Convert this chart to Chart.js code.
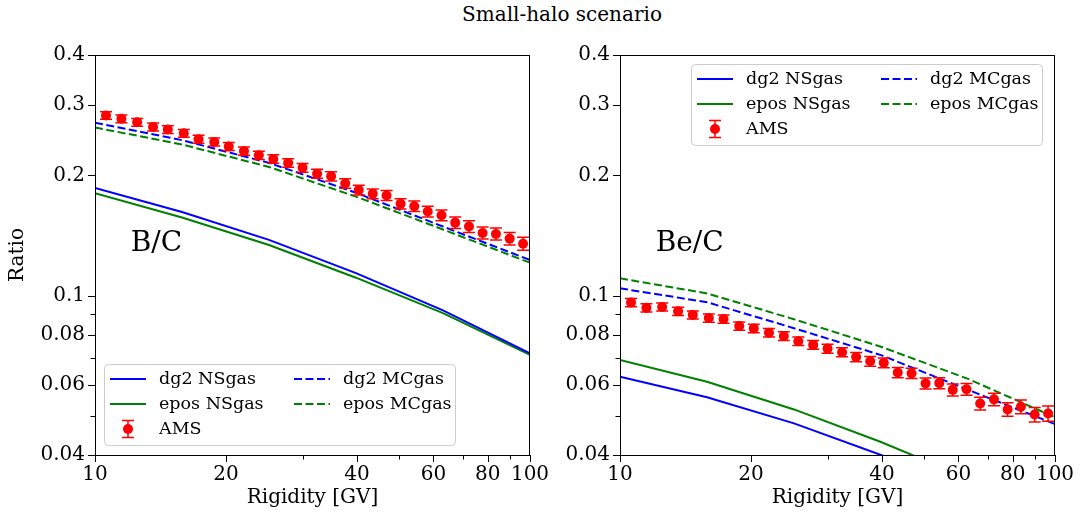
<!DOCTYPE html>
<html>
<head>
<meta charset="utf-8">
<script src="https://cdn.jsdelivr.net/npm/chart.js@4.4.0/dist/chart.umd.min.js"></script>
<style>
  body { margin: 0; background: #fff; width: 1085px; height: 516px; position: relative; overflow: hidden; font-family: 'DejaVu Serif', serif; }
  #title { position: absolute; left: 0; top: 2px; width: 1124px; text-align: center; font-size: 20px; line-height: 24px; color: #000; }
  #c1 { position: absolute; left: 0; top: 0; }
  #c2 { position: absolute; left: 560px; top: 0; }
</style>
</head>
<body>
<div id="title">Small-halo scenario</div>
<canvas id="c1" width="560" height="516"></canvas>
<canvas id="c2" width="525" height="516"></canvas>
<script>
// AMS data points (rigidity bins, GV)
const amsRigidity = [10.6, 11.5, 12.5, 13.6, 14.7, 16.0, 17.3, 18.8, 20.3, 22.0, 23.8, 25.7, 27.8, 30.0, 32.4,
                     34.9, 37.6, 40.4, 43.5, 46.8, 50.4, 54.2, 58.2, 62.6, 67.3, 72.4, 77.8, 83.5, 89.8, 96.4];
const bcAms = [0.2825, 0.2770, 0.2716, 0.2644, 0.2604, 0.2548, 0.2463, 0.2425, 0.2363, 0.2300, 0.2245, 0.2198, 0.2148, 0.2090, 0.2020,
               0.1990, 0.1910, 0.1838, 0.1799, 0.1782, 0.1698, 0.1675, 0.1625, 0.1590, 0.1524, 0.1490, 0.1436, 0.1428, 0.1390, 0.1350];
const bcAmsErr = [0.0062, 0.0060, 0.0060, 0.0060, 0.0058, 0.0058, 0.0056, 0.0056, 0.0055, 0.0055, 0.0054, 0.0054, 0.0053, 0.0053, 0.0052,
                  0.0052, 0.0052, 0.0051, 0.0051, 0.0051, 0.0050, 0.0050, 0.0050, 0.0050, 0.0050, 0.0050, 0.0050, 0.0050, 0.0050, 0.0050];
const becAms = [0.0962, 0.0933, 0.0938, 0.0915, 0.0896, 0.0880, 0.0875, 0.0840, 0.0829, 0.0809, 0.0793, 0.0770, 0.0754, 0.0738, 0.0723,
                0.0703, 0.0686, 0.0680, 0.0643, 0.0640, 0.0604, 0.0605, 0.0582, 0.0584, 0.0538, 0.0551, 0.0520, 0.0528, 0.0505, 0.0508];
const becAmsErr = [0.0023, 0.0022, 0.0022, 0.0022, 0.0021, 0.0021, 0.0021, 0.0020, 0.0020, 0.0020, 0.0020, 0.0019, 0.0019, 0.0019, 0.0019,
                   0.0019, 0.0019, 0.0019, 0.0019, 0.0019, 0.0019, 0.0019, 0.0020, 0.0020, 0.0020, 0.0020, 0.0020, 0.0021, 0.0021, 0.0022];

// model curves
const modelRigidity = [10, 15.85, 25.12, 39.81, 63.1, 100];
const bcDg2NS  = [0.186, 0.162, 0.138, 0.114, 0.092, 0.0718];
const bcEposNS = [0.1804, 0.157, 0.134, 0.111, 0.0905, 0.0712];
const bcDg2MC  = [0.271, 0.245, 0.215, 0.181, 0.149, 0.1229];
const bcEposMC = [0.2636, 0.239, 0.210, 0.177, 0.1465, 0.121];
const becDg2NS  = [0.0628, 0.0558, 0.048, 0.040, 0.0325, 0.0265];
const becEposNS = [0.0691, 0.061, 0.052, 0.0431, 0.035, 0.0285];
const becDg2MC  = [0.1044, 0.0964, 0.083, 0.0711, 0.0582, 0.0478];
const becEposMC = [0.1106, 0.1014, 0.0874, 0.0746, 0.062, 0.0497];

// ticks
const xTickValues = [10, 20, 40, 60, 80, 100];
const xTickLabels = ['10', '20', '40', '60', '80', '100'];
const xMinorTicks = [30, 50, 70, 90];
const yTickValues = [0.04, 0.06, 0.08, 0.1, 0.2, 0.3, 0.4];
const yTickLabels = ['0.04', '0.06', '0.08', '0.1', '0.2', '0.3', '0.4'];
const yMinorTicks = [0.05, 0.07, 0.09];

const serif = "'DejaVu Serif', serif";
Chart.defaults.font.family = serif;
Chart.defaults.font.size = 20;
Chart.defaults.color = '#000';

function pts(xs, ys) { return xs.map((x, i) => ({ x: x, y: ys[i] })); }

// error bars drawn just before the AMS markers
const errorBars = {
  id: 'errorBars',
  beforeDatasetDraw(chart, args) {
    const ds = chart.data.datasets[args.index];
    if (!ds.errors) return;
    const { ctx, chartArea: a, scales: { x, y } } = chart;
    ctx.save();
    ctx.beginPath(); ctx.rect(a.left, a.top, a.width, a.height); ctx.clip();
    ctx.strokeStyle = ds.backgroundColor;
    ctx.lineWidth = 1.5;
    ds.data.forEach((p, i) => {
      const px = x.getPixelForValue(p.x);
      const t = y.getPixelForValue(p.y + ds.errors[i]);
      const b = y.getPixelForValue(p.y - ds.errors[i]);
      ctx.beginPath();
      ctx.moveTo(px, t); ctx.lineTo(px, b);
      ctx.moveTo(px - 6, t); ctx.lineTo(px + 6, t);
      ctx.moveTo(px - 6, b); ctx.lineTo(px + 6, b);
      ctx.stroke();
    });
    ctx.restore();
  }
};

// matplotlib-like frame with major/minor ticks
const axesFrame = {
  id: 'axesFrame',
  afterDraw(chart) {
    const { ctx, chartArea: a, scales: { x, y } } = chart;
    ctx.save();
    ctx.strokeStyle = '#000';
    ctx.lineWidth = 1;
    ctx.strokeRect(a.left + 0.5, a.top + 0.5, a.width - 1, a.height);
    ctx.beginPath();
    const tick = (vals, len) => {
      vals.forEach(v => {
        const px = Math.round(x.getPixelForValue(v)) + 0.5;
        ctx.moveTo(px, a.bottom); ctx.lineTo(px, a.bottom + len);
      });
    };
    const ytick = (vals, len) => {
      vals.forEach(v => {
        const py = Math.round(y.getPixelForValue(v)) + 0.5;
        ctx.moveTo(a.left, py); ctx.lineTo(a.left - len, py);
      });
    };
    tick(xTickValues, 7); tick(xMinorTicks, 4.5);
    ytick(yTickValues, 7); ytick(yMinorTicks, 4.5);
    ctx.stroke();
    ctx.restore();
  }
};

const panelLabel = {
  id: 'panelLabel',
  afterDraw(chart, args, opts) {
    const { ctx, chartArea: a } = chart;
    ctx.save();
    ctx.font = "28px " + serif;
    ctx.fillStyle = '#000';
    ctx.textAlign = 'left';
    ctx.textBaseline = 'alphabetic';
    ctx.fillText(opts.text, a.left + 0.082 * a.width, a.top + 0.489 * a.height);
    ctx.restore();
  }
};

const boxLegend = {
  id: 'boxLegend',
  afterDraw(chart, args, opts) {
    const { ctx, chartArea: a } = chart;
    const w = 351, h = 81;
    const left = opts.corner === 'bl' ? a.left + 9 : a.right - 13 - w;
    const top = opts.corner === 'bl' ? a.bottom - 10 - h : a.top + 9;
    ctx.save();
    ctx.beginPath();
    ctx.roundRect(left + 0.5, top + 0.5, w, h, 4);
    ctx.fillStyle = 'rgba(255,255,255,0.8)';
    ctx.fill();
    ctx.strokeStyle = '#cccccc';
    ctx.lineWidth = 1;
    ctx.stroke();
    ctx.font = "17.5px " + serif;
    ctx.textBaseline = 'middle';
    ctx.textAlign = 'left';
    chart.data.datasets.forEach(ds => {
      const col = ds.slot[0], row = ds.slot[1];
      const hx = left + (col ? 190 : 6);
      const tx = left + (col ? 239 : 55);
      const cy = top + 15 + row * 25;
      if (ds.errors) {
        const mx = hx + 18;
        ctx.strokeStyle = ds.backgroundColor;
        ctx.lineWidth = 1.5;
        ctx.beginPath();
        ctx.moveTo(mx, cy - 8.5); ctx.lineTo(mx, cy + 8.5);
        ctx.moveTo(mx - 6, cy - 8.5); ctx.lineTo(mx + 6, cy - 8.5);
        ctx.moveTo(mx - 6, cy + 8.5); ctx.lineTo(mx + 6, cy + 8.5);
        ctx.stroke();
        ctx.fillStyle = ds.backgroundColor;
        ctx.beginPath(); ctx.arc(mx, cy, 5, 0, Math.PI * 2); ctx.fill();
      } else {
        ctx.strokeStyle = ds.borderColor;
        ctx.lineWidth = 2;
        ctx.setLineDash(ds.borderDash || []);
        ctx.beginPath(); ctx.moveTo(hx, cy); ctx.lineTo(hx + 36, cy); ctx.stroke();
        ctx.setLineDash([]);
      }
      ctx.fillStyle = '#000';
      ctx.fillText(ds.label, tx, cy);
    });
    ctx.restore();
  }
};

function lineSet(label, ys, color, dashed, slot) {
  return {
    label: label, data: pts(modelRigidity, ys), showLine: true, pointRadius: 0,
    borderColor: color, backgroundColor: color, borderWidth: 2,
    borderDash: dashed ? [8, 3.5] : [], clip: 0, slot: slot
  };
}

function makePanel(canvas, ams, amsErr, dg2NS, eposNS, dg2MC, eposMC, opts) {
  return new Chart(canvas, {
    type: 'scatter',
    data: {
      datasets: [
        { label: 'AMS', data: pts(amsRigidity, ams), errors: amsErr, pointRadius: 5, pointHoverRadius: 5,
          backgroundColor: '#ff0000', borderWidth: 0, showLine: false, slot: [0, 2] },
        lineSet('dg2 NSgas', dg2NS, '#0000ff', false, [0, 0]),
        lineSet('epos NSgas', eposNS, '#008000', false, [0, 1]),
        lineSet('dg2 MCgas', dg2MC, '#0000ff', true, [1, 0]),
        lineSet('epos MCgas', eposMC, '#008000', true, [1, 1])
      ]
    },
    options: {
      responsive: false,
      animation: false,
      events: [],
      layout: { padding: { left: 0, top: 55, right: opts.padRight, bottom: 0 } },
      plugins: {
        legend: { display: false },
        tooltip: { enabled: false },
        panelLabel: { text: opts.label },
        boxLegend: { corner: opts.legendCorner }
      },
      scales: {
        x: {
          type: 'logarithmic', min: 10, max: 100,
          afterBuildTicks: s => { s.ticks = xTickValues.map(v => ({ value: v })); },
          afterFit: s => { s.height = 61; },
          ticks: {
            autoSkip: false, maxRotation: 0, padding: 8,
            font: { family: serif, size: 20 },
            callback: v => { const i = xTickValues.indexOf(v); return i >= 0 ? xTickLabels[i] : ''; }
          },
          grid: { display: false, drawTicks: false },
          border: { display: false },
          title: { display: true, text: 'Rigidity [GV]', font: { family: serif, size: 20 }, padding: { top: 0, bottom: 6 } }
        },
        y: {
          type: 'logarithmic', min: 0.04, max: 0.4,
          afterBuildTicks: s => { s.ticks = yTickValues.map(v => ({ value: v })); },
          afterFit: s => { s.width = opts.yWidth; },
          ticks: {
            autoSkip: false, padding: 10,
            font: { family: serif, size: 20 },
            callback: v => { const i = yTickValues.indexOf(v); return i >= 0 ? yTickLabels[i] : ''; }
          },
          grid: { display: false, drawTicks: false },
          border: { display: false },
          title: { display: opts.yTitle, text: 'Ratio', font: { family: serif, size: 20 }, padding: { top: 6, bottom: 0 } }
        }
      }
    },
    plugins: [errorBars, axesFrame, panelLabel, boxLegend]
  });
}

makePanel(document.getElementById('c1'), bcAms, bcAmsErr, bcDg2NS, bcEposNS, bcDg2MC, bcEposMC,
  { padRight: 30, yWidth: 95, yTitle: true, label: 'B/C', legendCorner: 'bl' });
makePanel(document.getElementById('c2'), becAms, becAmsErr, becDg2NS, becEposNS, becDg2MC, becEposMC,
  { padRight: 30, yWidth: 60, yTitle: false, label: 'Be/C', legendCorner: 'tr' });
</script>
</body>
</html>
